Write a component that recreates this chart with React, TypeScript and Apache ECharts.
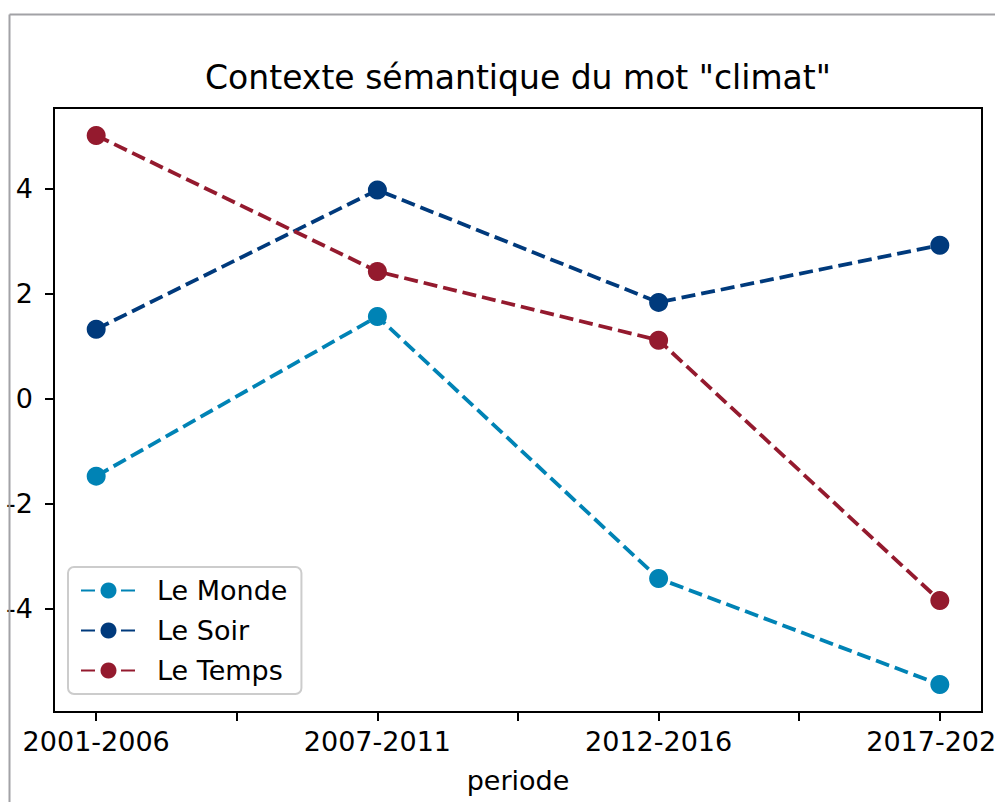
import React, { useEffect, useRef } from "react";
import * as echarts from "echarts";

const periods = ["2001-2006", "2007-2011", "2012-2016", "2017-2021"];
const leMonde = [-1.47, 1.57, -3.42, -5.44];
const leSoir = [1.33, 3.98, 1.84, 2.93];
const leTemps = [5.02, 2.43, 1.12, -3.84];
const yTicks = [-4, -2, 0, 2, 4];
const xTickPositions = [0, 0.5, 1, 1.5, 2, 2.5, 3];
const xLabelPositions = [0, 1, 2, 3];

const FONT = "DejaVu Sans";
const colors = { monde: "#0083b5", soir: "#003a7c", temps: "#941a2e" };

const mk = (name: string, vals: number[], color: string) => ({
  name,
  type: "line",
  data: vals.map((v, i) => [i, v]),
  symbol: "circle",
  symbolSize: 19,
  itemStyle: { color },
  lineStyle: { color, width: 3.8, type: [14, 6] },
  emphasis: { disabled: true },
});

export default function App() {
  const ref = useRef<HTMLDivElement>(null);
  useEffect(() => {
    if (!ref.current) return;
    const chart = echarts.init(ref.current, undefined, { renderer: "svg" });
    const all = [...leMonde, ...leSoir, ...leTemps];
    const dMin = Math.min(...all);
    const dMax = Math.max(...all);
    const m = (dMax - dMin) * 0.05;
    chart.setOption({
      animation: false,
      backgroundColor: "#ffffff",
      title: {
        text: 'Contexte sémantique du mot "climat"',
        left: 518,
        top: 61,
        padding: 0,
        textAlign: "center",
        textStyle: { fontFamily: FONT, fontSize: 33, fontWeight: "normal", color: "#000" },
      },
      legend: {
        orient: "vertical",
        left: 68,
        top: 567,
        padding: [10, 14, 10, 12],
        itemWidth: 55,
        itemHeight: 20,
        itemGap: 13,
        backgroundColor: "#ffffff",
        borderColor: "#cccccc",
        borderWidth: 2,
        borderRadius: 6,
        textStyle: { fontFamily: FONT, fontSize: 27, color: "#000", padding: [0, 0, 0, 16] },
        data: ["Le Monde", "Le Soir", "Le Temps"],
      },
      grid: {
        left: 54,
        right: 13,
        top: 108,
        bottom: 90,
        show: true,
        borderColor: "#000",
        borderWidth: 2,
        backgroundColor: "transparent",
        containLabel: false,
        outerBoundsMode: "none",
      },
      xAxis: {
        type: "value",
        min: -0.15,
        max: 3.15,
        name: "periode",
        nameLocation: "middle",
        nameGap: 55,
        nameTextStyle: { fontFamily: FONT, fontSize: 27, color: "#000", verticalAlign: "top" },
        axisLine: { show: true, onZero: false, lineStyle: { color: "#000", width: 2 } },
        axisTick: {
          show: true,
          inside: false,
          length: 9,
          lineStyle: { color: "#000", width: 2 },
          customValues: xTickPositions,
        },
        axisLabel: {
          margin: 16,
          fontFamily: FONT,
          fontSize: 27,
          color: "#000",
          hideOverlap: false,
          customValues: xLabelPositions,
          formatter: (v: number) => periods[Math.round(v)] ?? "",
        },
        splitLine: { show: false },
      },
      yAxis: {
        type: "value",
        min: dMin - m,
        max: dMax + m,
        axisLine: { show: true, onZero: false, lineStyle: { color: "#000", width: 2 } },
        axisTick: {
          show: true,
          inside: false,
          length: 9,
          lineStyle: { color: "#000", width: 2 },
          customValues: yTicks,
        },
        axisLabel: {
          margin: 21,
          fontFamily: FONT,
          fontSize: 27,
          color: "#000",
          customValues: yTicks,
        },
        splitLine: { show: false },
      },
      series: [
        mk("Le Monde", leMonde, colors.monde),
        mk("Le Soir", leSoir, colors.soir),
        mk("Le Temps", leTemps, colors.temps),
      ],
      graphic: [
        {
          type: "line",
          z: 100,
          shape: { x1: 9.5, y1: 14.5, x2: 995, y2: 14.5 },
          style: { stroke: "#a2a2a6", lineWidth: 2 },
        },
        {
          type: "line",
          z: 100,
          shape: { x1: 9.5, y1: 14.5, x2: 9.5, y2: 802 },
          style: { stroke: "#a2a2a6", lineWidth: 2 },
        },
      ],
    });
    return () => chart.dispose();
  }, []);
  return (
    <div
      ref={ref}
      style={{ position: "fixed", left: 0, top: 0, width: 995, height: 802, background: "#fff" }}
    />
  );
}
